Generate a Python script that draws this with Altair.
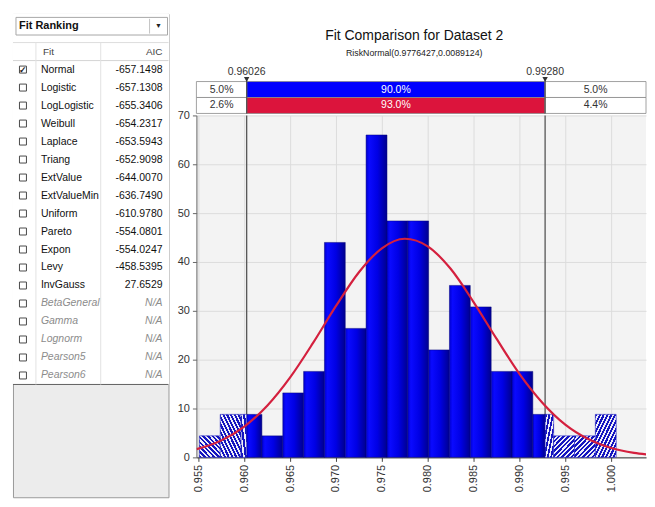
import math
import altair as alt
import pandas as pd

# ------------------------------------------------------------------ data
fit_names = ["Normal", "Logistic", "LogLogistic", "Weibull", "Laplace", "Triang",
             "ExtValue", "ExtValueMin", "Uniform", "Pareto", "Expon", "Levy",
             "InvGauss", "BetaGeneral", "Gamma", "Lognorm", "Pearson5", "Pearson6"]
fit_aic = ["-657.1498", "-657.1308", "-655.3406", "-654.2317", "-653.5943", "-652.9098",
           "-644.0070", "-636.7490", "-610.9780", "-554.0801", "-554.0247", "-458.5395",
           "27.6529", "N/A", "N/A", "N/A", "N/A", "N/A"]
fit_available = [True] * 13 + [False] * 5
fit_checked = [True] + [False] * 17

hist_edges = [0.95511, 0.95738, 0.95965, 0.96192, 0.96420, 0.96647, 0.96874, 0.97101,
              0.97328, 0.97556, 0.97783, 0.98010, 0.98237, 0.98464, 0.98692, 0.98919,
              0.99146, 0.99373, 0.99601, 0.99828, 1.00055]
hist_density = [4.4, 8.8, 8.8, 4.4, 13.2, 17.6, 44.0, 26.4, 66.0, 48.4,
                48.4, 22.0, 35.2, 30.8, 17.6, 17.6, 8.8, 4.4, 4.4, 8.8]

cutoff_values = [0.96026, 0.99280]
band_fit = ["5.0%", "90.0%", "5.0%"]
band_input = ["2.6%", "93.0%", "4.4%"]

curve_x = [0.9548, 0.9550, 0.9575, 0.9600, 0.9625, 0.9650, 0.9675, 0.9700, 0.9725, 0.9750,
           0.9775, 0.9800, 0.9825, 0.9850, 0.9875, 0.9900, 0.9925, 0.9950, 0.9975, 1.0000,
           1.0025, 1.0040]
curve_y = [1.68, 1.78, 3.48, 6.31, 10.57, 16.37, 23.43, 31.0, 37.9, 42.8,
           44.75, 43.2, 38.6, 31.8, 24.3, 17.1, 11.2, 6.7, 3.74, 1.92,
           0.92, 0.57]

x_tick_values = [0.955, 0.960, 0.965, 0.970, 0.975, 0.980, 0.985, 0.990, 0.995, 1.000]
y_tick_values = [0, 10, 20, 30, 40, 50, 60, 70]

chart_title = "Fit Comparison for Dataset 2"
chart_subtitle = "RiskNormal(0.9776427,0.0089124)"

# ------------------------------------------------------------------ layout / style
FONT = "Liberation Sans"
PLOT_W, PLOT_H = 451, 343
HEAD_H = 100          # header strip (title, subtitle, percentile bars) above the plot
ROW_PX = 16.0
XMIN = 0.95478
XMAX = XMIN + PLOT_W / 9200.0
YMAX = 70
TABLE_W, TABLE_H = 156, 485
ROW_STEP, ROW0 = 18.05, 56.0

BLUE = "#0000ff"
RED = "#dc143c"
HATCH_DARK = "#1414c0"
HATCH_LIGHT = "#eeeef8"

xscale = alt.Scale(domain=[XMIN, XMAX], nice=False, zero=False)
yscale = alt.Scale(domain=[0, YMAX], nice=False, zero=True)
xaxis = alt.Axis(values=x_tick_values, format=".3f", labelAngle=270, labelFontSize=11,
                 labelColor="#333", tickSize=4, tickColor="#444", domainColor="#333",
                 grid=True, gridColor="#dcdcdc", labelPadding=3, labelFlush=False,
                 labelOverlap=False, title=None)
yaxis = alt.Axis(values=y_tick_values, labelFontSize=11, labelColor="#333", tickSize=4,
                 tickColor="#666", domainColor="#666", grid=True, gridColor="#dcdcdc",
                 labelPadding=3, title=None)


def HX(f):
    return alt.X(f, type="quantitative", scale=xscale, axis=xaxis)


def HY(f):
    return alt.Y(f, type="quantitative", scale=yscale, axis=yaxis)


# ------------------------------------------------------------------ histogram segments
segs = []
for k in range(len(hist_density)):
    a, b, h = hist_edges[k], hist_edges[k + 1], hist_density[k]
    pts = [a] + [c for c in cutoff_values if a < c < b] + [b]
    for p, q in zip(pts[:-1], pts[1:]):
        mid = (p + q) / 2
        kind = "L" if mid < cutoff_values[0] else ("R" if mid > cutoff_values[1] else "S")
        segs.append({"x0": p, "x1": q, "h": h, "base": 0.0, "kind": kind})
seg_df = pd.DataFrame(segs)

solid_grad = alt.LinearGradient(
    gradient="linear", x1=0, y1=0, x2=1, y2=0,
    stops=[alt.GradientStop(offset=0, color="#0000d0"),
           alt.GradientStop(offset=0.15, color="#0a0aff"),
           alt.GradientStop(offset=0.55, color="#0000e4"),
           alt.GradientStop(offset=1, color="#00008e")])


def stripe_gradient(n, forward):
    stops = []
    for k in range(n):
        a, m, b = k / n, (k + 0.55) / n, (k + 1) / n
        stops += [alt.GradientStop(offset=a, color=HATCH_DARK),
                  alt.GradientStop(offset=m, color=HATCH_DARK),
                  alt.GradientStop(offset=m, color=HATCH_LIGHT),
                  alt.GradientStop(offset=b, color=HATCH_LIGHT)]
    if forward:
        return alt.LinearGradient(gradient="linear", stops=stops, x1=0, y1=0, x2=1, y2=1)
    return alt.LinearGradient(gradient="linear", stops=stops, x1=0, y1=1, x2=1, y2=0)


px_x = PLOT_W / (XMAX - XMIN)
px_y = PLOT_H / YMAX

hist_layers = []
cut_df = pd.DataFrame({"x": cutoff_values})
hist_layers.append(alt.Chart(cut_df).mark_rule(color="#555", strokeWidth=1.3).encode(x=HX("x")))
hist_layers.append(
    alt.Chart(seg_df[seg_df.kind == "S"]).mark_rect(fill=solid_grad, stroke="#00007a", strokeWidth=0.5)
    .encode(x=HX("x0"), x2="x1", y=HY("h"), y2="base"))
for s in segs:
    if s["kind"] == "S":
        continue
    w = (s["x1"] - s["x0"]) * px_x
    hh = s["h"] * px_y
    d = 2 * w * hh / math.sqrt(w * w + hh * hh)
    n = max(1, round(d / 3.4))
    hist_layers.append(
        alt.Chart(pd.DataFrame([s])).mark_rect(fill=stripe_gradient(n, s["kind"] == "R"),
                                               stroke="#2020c0", strokeWidth=0.6)
        .encode(x=HX("x0"), x2="x1", y=HY("h"), y2="base"))
curve_df = pd.DataFrame({"x": curve_x, "y": curve_y})
hist_layers.append(alt.Chart(curve_df).mark_line(color="#d4203e", strokeWidth=2.2,
                                                 interpolate="monotone", clip=True)
                   .encode(x=HX("x"), y=HY("y")))

hist = alt.layer(*hist_layers).properties(
    width=PLOT_W, height=PLOT_H,
    view=alt.ViewBackground(fill="#f3f3f3", stroke=None))

# ------------------------------------------------------------------ header strip
bscale = alt.Scale(domain=[0, HEAD_H / ROW_PX], nice=False, zero=False)


def BX(f):
    return alt.X(f, type="quantitative", scale=xscale, axis=None)


def BY(f):
    return alt.Y(f, type="quantitative", scale=bscale, axis=None)


cells = []
for row, labels, mid_fill in [(1, band_fit, BLUE), (0, band_input, RED)]:
    bounds = [XMIN, cutoff_values[0], cutoff_values[1], XMAX]
    for j in range(3):
        cells.append({"x0": bounds[j], "x1": bounds[j + 1], "xm": (bounds[j] + bounds[j + 1]) / 2,
                      "y0": row, "y1": row + 1, "ym": row + 0.5, "label": labels[j],
                      "fill": mid_fill if j == 1 else "#ffffff",
                      "tcolor": "#ffffff" if j == 1 else "#333333"})
cell_df = pd.DataFrame(cells)
cut_lab_df = pd.DataFrame({"x": cutoff_values, "label": [f"{v:.5f}" for v in cutoff_values],
                           "y": [2.3] * 2, "yt": [2.14] * 2, "y0": [0] * 2})
title_df = pd.DataFrame({"t": [chart_title], "y": [4.85]})
subtitle_df = pd.DataFrame({"t": [chart_subtitle], "y": [3.8]})

band = alt.layer(
    alt.Chart(cell_df).mark_rect(stroke="#8a8a8a", strokeWidth=0.8).encode(
        x=BX("x0"), x2="x1", y=BY("y0"), y2="y1", fill=alt.Fill("fill:N", scale=None)),
    alt.Chart(cell_df).mark_text(fontSize=10.5).encode(
        x=BX("xm"), y=BY("ym"), text="label:N", color=alt.Color("tcolor:N", scale=None)),
    alt.Chart(cut_lab_df).mark_rule(color="#555", strokeWidth=1.3).encode(
        x=BX("x"), y=BY("y0"), y2="yt"),
    alt.Chart(cut_lab_df).mark_point(shape="triangle-down", filled=True, size=30,
                                     color="#333", opacity=1).encode(x=BX("x"), y=BY("yt")),
    alt.Chart(cut_lab_df).mark_text(fontSize=10.5, baseline="bottom", color="#333").encode(
        x=BX("x"), y=BY("y"), text="label:N"),
    alt.Chart(title_df).mark_text(fontSize=14, color="#111").encode(
        x=alt.value(PLOT_W / 2 - 7), y=BY("y"), text="t:N"),
    alt.Chart(subtitle_df).mark_text(fontSize=8.8, color="#222").encode(
        x=alt.value(PLOT_W / 2 - 7), y=BY("y"), text="t:N"),
).properties(width=PLOT_W, height=HEAD_H, view=alt.ViewBackground(stroke=None))

right = alt.vconcat(band, hist, spacing=2, bounds="flush")

# ------------------------------------------------------------------ fit ranking table
tx = alt.Scale(domain=[0, TABLE_W], nice=False, zero=False)
ty = alt.Scale(domain=[-ROW0 / ROW_STEP, (TABLE_H - ROW0) / ROW_STEP], nice=False, zero=False,
               reverse=True)


def TX(f):
    return alt.X(f, type="quantitative", scale=tx, axis=None)


def TY(f):
    return alt.Y(f, type="quantitative", scale=ty, axis=None)


rows_df = pd.DataFrame({"i": list(range(len(fit_names))), "name": fit_names, "aic": fit_aic,
                        "avail": fit_available, "checked": fit_checked})
rows_df["xc"] = 10
rows_df["xn"] = 28
rows_df["xa"] = 150
rows_df["mark"] = ["✓" if c else "" for c in fit_checked]
avail_df = rows_df[rows_df.avail]
na_df = rows_df[~rows_df.avail]

rects_df = pd.DataFrame([
    {"x0": 0, "x1": TABLE_W, "y0": -ROW0 / ROW_STEP, "y1": 17.5, "fill": "#ffffff", "stroke": "#ffffff"},
    {"x0": 3, "x1": 155, "y0": -2.9, "y1": -1.92, "fill": "#ffffff", "stroke": "#a8a8a8"},
])
hlines_df = pd.DataFrame([
    {"x0": 0, "x1": TABLE_W, "y": -1.5, "c": "#dddddd"},
    {"x0": 0, "x1": TABLE_W, "y": -0.5, "c": "#d4d4d4"},
    {"x0": 0, "x1": TABLE_W, "y": 17.5, "c": "#606060"},
])
vlines_df = pd.DataFrame([
    {"x": 23, "y0": -1.5, "y1": 17.5, "c": "#e2e2e2"},
    {"x": 88, "y0": -1.5, "y1": 17.5, "c": "#e2e2e2"},
    {"x": 137, "y0": -2.82, "y1": -2.0, "c": "#c4c4c4"},
])
head_df = pd.DataFrame([{"x": 6, "y": -2.4, "t": "Fit Ranking"}])
colhead_df = pd.DataFrame([{"x": 30, "y": -1.0, "t": "Fit"}])
colhead_r_df = pd.DataFrame([{"x": 150, "y": -1.0, "t": "AIC"}])
arrow_df = pd.DataFrame([{"x": 146, "y": -2.4, "t": "▼"}])

table = alt.layer(
    alt.Chart(rects_df).mark_rect(strokeWidth=1).encode(
        x=TX("x0"), x2="x1", y=TY("y0"), y2="y1",
        fill=alt.Fill("fill:N", scale=None), stroke=alt.Stroke("stroke:N", scale=None)),
    alt.Chart(hlines_df).mark_rule(strokeWidth=1).encode(
        x=TX("x0"), x2="x1", y=TY("y"), color=alt.Color("c:N", scale=None)),
    alt.Chart(vlines_df).mark_rule(strokeWidth=1).encode(
        x=TX("x"), y=TY("y0"), y2="y1", color=alt.Color("c:N", scale=None)),
    alt.Chart(head_df).mark_text(fontSize=11, fontWeight="bold", align="left", color="#111").encode(
        x=TX("x"), y=TY("y"), text="t:N"),
    alt.Chart(arrow_df).mark_text(fontSize=7, color="#222").encode(
        x=TX("x"), y=TY("y"), text="t:N"),
    alt.Chart(colhead_df).mark_text(fontSize=10, align="left", color="#444").encode(
        x=TX("x"), y=TY("y"), text="t:N"),
    alt.Chart(colhead_r_df).mark_text(fontSize=10, align="right", color="#444").encode(
        x=TX("x"), y=TY("y"), text="t:N"),
    alt.Chart(rows_df).mark_square(size=49, fill="white", stroke="#4a4a4a", strokeWidth=1,
                                   opacity=1).encode(x=TX("xc"), y=TY("i")),
    alt.Chart(rows_df).mark_text(fontSize=9, fontWeight="bold", color="#222").encode(
        x=TX("xc"), y=TY("i"), text="mark:N"),
    alt.Chart(avail_df).mark_text(fontSize=10.5, align="left", color="#111").encode(
        x=TX("xn"), y=TY("i"), text="name:N"),
    alt.Chart(avail_df).mark_text(fontSize=10.5, align="right", color="#111").encode(
        x=TX("xa"), y=TY("i"), text="aic:N"),
    alt.Chart(na_df).mark_text(fontSize=10.5, align="left", color="#8c8c8c",
                               fontStyle="italic").encode(x=TX("xn"), y=TY("i"), text="name:N"),
    alt.Chart(na_df).mark_text(fontSize=10.5, align="right", color="#8c8c8c",
                               fontStyle="italic").encode(x=TX("xa"), y=TY("i"), text="aic:N"),
).properties(width=TABLE_W, height=TABLE_H,
             view=alt.ViewBackground(fill="#ececec", stroke="#9a9a9a"))

chart = alt.hconcat(table, right, spacing=7).properties(
    padding={"left": 4, "top": 4, "right": 0, "bottom": 0}, background="white"
).configure(font=FONT).configure_view(stroke=None)

chart.save("out.html", embed_options={"renderer": "svg", "actions": False})
